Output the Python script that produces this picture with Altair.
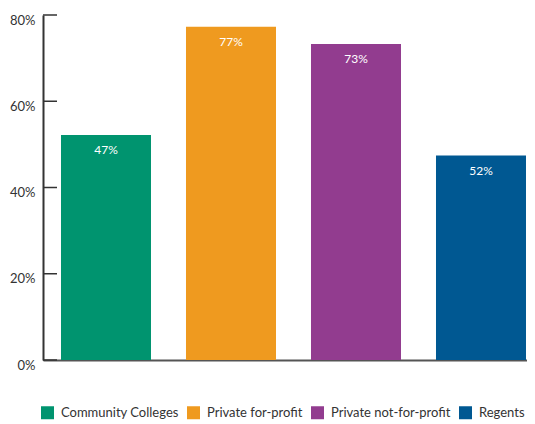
import altair as alt
import pandas as pd

categories = ["Community Colleges", "Private for-profit", "Private not-for-profit", "Regents"]
bar_values = [52.2, 77.3, 73.3, 47.4]
bar_labels = ["47%", "77%", "73%", "52%"]
colors = ["#00946F", "#EF9A1F", "#923C8F", "#005892"]
y_ticks = [0, 20, 40, 60, 80]

FONT = "Lato"

df = pd.DataFrame({"category": categories, "value": bar_values, "label": bar_labels})
ticks_df = pd.DataFrame({"value": y_ticks})

x_axis = alt.Axis(title=None, labels=False, ticks=False, domainColor="#555555", domainWidth=2)
x_scale = alt.Scale(paddingInner=0.28, paddingOuter=0.076, align=0.947)
y_scale = alt.Scale(domain=[0, 80], nice=False)
y_axis = alt.Axis(
    title=None,
    values=y_ticks,
    grid=False,
    ticks=False,
    domainColor="#333333",
    domainWidth=2,
    labelExpr="datum.value + '%'",
    labelPadding=8,
    labelFontSize=13,
    labelColor="#333333",
    labelFont=FONT,
    labelOffset=5,
)

bars = alt.Chart(df).mark_bar().encode(
    x=alt.X("category:N", sort=categories, scale=x_scale, axis=x_axis),
    y=alt.Y("value:Q", scale=y_scale, axis=y_axis),
    color=alt.Color(
        "category:N",
        sort=categories,
        scale=alt.Scale(domain=categories, range=colors),
        legend=alt.Legend(
            title=None,
            orient="none",
            legendX=-2,
            legendY=391,
            direction="horizontal",
            symbolType="square",
            symbolSize=169,
            symbolStrokeWidth=0,
            symbolOpacity=1,
            labelFont=FONT,
            labelFontSize=13,
            labelColor="#333333",
            labelOffset=7,
            columnPadding=8,
            padding=0,
        ),
    ),
)

texts = alt.Chart(df).mark_text(dy=15, color="white", fontSize=12, font=FONT, baseline="middle").encode(
    x=alt.X("category:N", sort=categories, scale=x_scale, axis=x_axis),
    y=alt.Y("value:Q", scale=y_scale, axis=y_axis),
    text="label:N",
)

tick_rules = alt.Chart(ticks_df).mark_rule(color="#333333", strokeWidth=1.5).encode(
    y=alt.Y("value:Q", scale=y_scale, axis=y_axis),
    x=alt.value(0),
    x2=alt.value(14),
)

chart = alt.layer(bars, texts, tick_rules).properties(
    width=484,
    height=345,
    padding={"left": 35, "top": 7, "right": 0, "bottom": 66},
    autosize=alt.AutoSizeParams(type="none"),
).configure_view(stroke=None)

chart.save("out.html", embed_options={"renderer": "svg", "actions": False})
